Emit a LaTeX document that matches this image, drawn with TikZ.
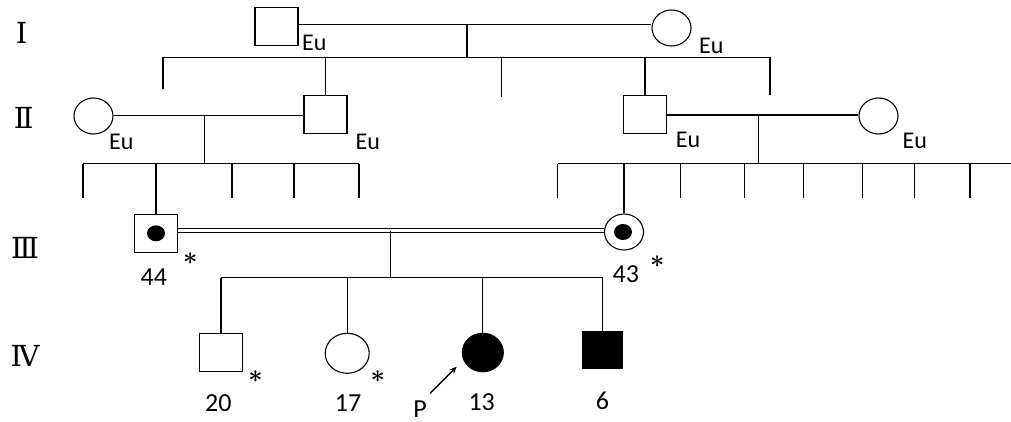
\documentclass[tikz,border=0pt]{standalone}
\usepackage{fontspec}
\setmainfont{Carlito}
\newfontfamily\romanfont{DejaVu Serif}
\usetikzlibrary{shapes.geometric,arrows.meta}
\begin{document}
\begin{tikzpicture}[x=1pt,y=-1pt,
  line width=1.1pt,
  male/.style={draw,rectangle,inner sep=0pt,minimum width=43pt,minimum height=38pt},
  female/.style={draw,ellipse,inner sep=0pt,minimum width=39pt,minimum height=36pt},
  carrier/.style={fill=black,ellipse,inner sep=0pt,minimum width=18pt,minimum height=16pt},
  gen/.style={inner sep=0pt,font=\romanfont\fontsize{29}{30}\selectfont},
  eu/.style={inner sep=0pt,font=\fontsize{24}{26}\selectfont},
  age/.style={inner sep=0pt,font=\fontsize{26}{28}\selectfont},
  star/.style={inner sep=0pt,font=\fontsize{30}{32}\selectfont\boldmath},
  consang/.style={double,line width=1pt,double distance=2.6pt},
  arrowline/.style={-{Stealth[length=7pt,width=6pt]},line width=1.4pt}]
\useasboundingbox (0,0) rectangle (1011,422);

% generation numerals
\node[gen] (gI)   at (21.7,33.3) {Ⅰ};
\node[gen] (gII)  at (23.7,118)  {Ⅱ};
\node[gen] (gIII) at (25,248)    {Ⅲ};
\node[gen] (gIV)  at (25,356.3)  {Ⅳ};

% generation I
\node[male]   (m1) at (276.5,26.5) {};
\node[female] (f1) at (671.5,28)   {};
\node[eu] (eum1) at (314.2,43.3) {Eu};
\node[eu] (euf1) at (711.3,46)   {Eu};
\coordinate (d1) at (467,24.3);
\coordinate (s1) at (467,57.3);
\coordinate (s1L) at (163,57.3);
\coordinate (s1R) at (770,57.3);
\coordinate (c1a) at (163,89);
\coordinate (c1c) at (501.7,97);
\coordinate (c1e) at (770,95);

% generation II
\node[female] (f2a) at (93.5,116)   {};
\node[male]   (m2a) at (325.5,114.5) {};
\node[male]   (m2b) at (645,114.5)  {};
\node[female] (f2b) at (878.5,116)  {};
\node[eu] (euf2a) at (121.3,141.8) {Eu};
\node[eu] (eum2a) at (367.8,141.8) {Eu};
\node[eu] (eum2b) at (688,140.3)   {Eu};
\node[eu] (euf2b) at (914.7,141.2) {Eu};
\coordinate (d2a) at (204.3,115.7);
\coordinate (s2a) at (204.3,163.7);
\coordinate (s2aL) at (83,163.7);
\coordinate (s2aR) at (359,163.7);
\coordinate (d2b) at (758.3,115);
\coordinate (s2b) at (758.3,163.7);
\coordinate (s2bL) at (557.7,163.7);
\coordinate (s2bR) at (1011,163.7);

% generation III
\node[male]   (m3) at (156,233.3) {};
\node[carrier] at (m3) {};
\node[female] (f3) at (624,232)   {};
\node[carrier] at ([xshift=-1pt]f3.center) {};
\node[age] (a44) at (153.8,277.5) {44};
\node[age] (a43) at (625.8,274)   {43};
\node[star] (st44) at (190.3,259) {$\ast$};
\node[star] (st43) at (657.3,261.7) {$\ast$};
\coordinate (d3) at (390.7,230.7);
\coordinate (s3) at (390.7,277.7);
\coordinate (s3L) at (221,277.7);
\coordinate (s3R) at (602.5,277.7);

% generation IV
\node[male,minimum width=43.4pt,minimum height=37.7pt] (m4a) at (221,352.2) {};
\node[female,minimum width=44pt,minimum height=40pt]   (f4a) at (347.2,353.3) {};
\node[female,fill=black,minimum width=41pt,minimum height=38.5pt] (f4b) at (482.8,352.5) {};
\node[male,fill=black,minimum width=40.4pt,minimum height=36.6pt] (m4b) at (602.5,350) {};
\node[age] (a20) at (218.3,403.5) {20};
\node[age] (a17) at (348,403.5)   {17};
\node[age] (a13) at (481.7,401.7) {13};
\node[age] (a6)  at (602.5,401.2) {6};
\node[star] (st20) at (255.5,376.3) {$\ast$};
\node[star] (st17) at (377.8,376.3) {$\ast$};
\node[age] (prob) at (420,409) {P};
\coordinate (ptail) at (430,393.3);
\coordinate (phead) at (456.7,366.7);

% mating lines
\draw (m1.east |- d1) -- (d1 -| f1.west);
\draw (f2a.east |- d2a) -- (d2a -| m2a.west);
\draw[line width=1.5pt] (m2b.east |- d2b) -- (d2b -| f2b.west);
\draw[consang] (m3.east |- d3) -- (d3 -| f3.west);

% descent and sibship lines
\draw (d1) -- (s1);
\draw (s1L) -- (s1R);
\draw (s1L) -- (c1a);
\draw (m2a.north |- s1) -- (m2a.north);
\draw (s1 -| c1c) -- (c1c);
\draw (m2b.north |- s1) -- (m2b.north);
\draw (s1R) -- (c1e);

\draw (d2a) -- (s2a);
\draw[line width=1.3pt] (s2aL) -- (s2aR);
\foreach \x/\n in {83/a,232/c,294/d,359/e}{
  \coordinate (c2\n) at (\x,198);
  \draw[line width=1.3pt] (s2a -| c2\n) -- (c2\n);
}
\draw (s2a -| m3.north) -- (m3.north);

\draw (d2b) -- (s2b);
\draw[line width=1.4pt] (s2bL) -- (s2bR);
\foreach \x/\n in {557.7/a,680.7/c,744.7/d,803.7/e,862.7/f,914.7/g,970/h}{
  \coordinate (c3\n) at (\x,198);
  \draw[line width=1.3pt] (s2b -| c3\n) -- (c3\n);
}
\draw (s2b -| f3.north) -- (f3.north);

\draw (d3) -- (s3);
\draw (s3L) -- (s3R);
\draw (s3 -| m4a.north) -- (m4a.north);
\draw (s3 -| f4a.north) -- (f4a.north);
\draw (s3 -| f4b.north) -- (f4b.north);
\draw (s3 -| m4b.north) -- (m4b.north);

% proband arrow
\draw[arrowline] (ptail) -- (phead);
\end{tikzpicture}
\end{document}
